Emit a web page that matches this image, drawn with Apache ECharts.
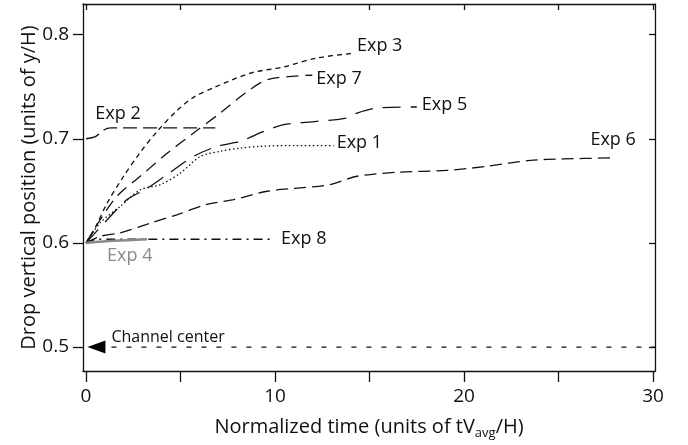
<!DOCTYPE html>
<html>
<head>
<meta charset="utf-8">
<script src="https://cdn.jsdelivr.net/npm/echarts@6/dist/echarts.min.js"></script>
<style>
  html, body { margin: 0; padding: 0; background: #fff; }
  #chart { width: 688px; height: 445px; }
</style>
</head>
<body>
<div id="chart"></div>
<script>
// Drop trajectories: normalized time vs. vertical position
const exp1X = [0, 0.76, 1.81, 2.87, 3.93, 4.99, 6.05, 7.1, 8.16, 9.2, 11.0, 13.1];
const exp1Y = [0.6, 0.6195, 0.635, 0.651, 0.656, 0.667, 0.683, 0.688, 0.691, 0.6927, 0.6935, 0.6935];

const exp2X = [0, 0.5, 0.9, 1.3, 6.84];
const exp2Y = [0.70, 0.702, 0.708, 0.7104, 0.7104];

const exp3X = [0, 0.5, 1.11, 1.99, 2.87, 3.76, 4.81, 5.7, 6.75, 8.69, 10.45, 12.2, 14.07];
const exp3Y = [0.6, 0.615, 0.638, 0.664, 0.687, 0.707, 0.727, 0.74, 0.749, 0.763, 0.769, 0.7775, 0.782];

const exp4X = [0, 1.5, 3.23];
const exp4Y = [0.6, 0.602, 0.6035];

const exp5X = [0, 1.11, 2.17, 3.2, 4.29, 5.69, 6.93, 8.16, 9.4, 10.45, 12.2, 13.8, 14.34, 15.4, 17.5];
const exp5Y = [0.6, 0.622, 0.6416, 0.652, 0.6656, 0.683, 0.6927, 0.6975, 0.707, 0.7135, 0.7167, 0.72, 0.7247, 0.7295, 0.7305];

const exp6X = [0, 0.76, 1.81, 3.4, 4.81, 6.4, 7.81, 9.58, 11.34, 12.9, 14.34, 16.45, 19.1, 21.2, 23.5, 25.27, 27.74];
const exp6Y = [0.6, 0.6064, 0.6097, 0.619, 0.627, 0.637, 0.6416, 0.6496, 0.6528, 0.656, 0.664, 0.6678, 0.6697, 0.6735, 0.6793, 0.6806, 0.6816];

const exp7X = [0, 0.6, 1.64, 2.87, 4.29, 5.69, 7.1, 8.43, 9.58, 11.34, 11.97];
const exp7Y = [0.6, 0.618, 0.645, 0.664, 0.686, 0.7055, 0.7247, 0.744, 0.7567, 0.7605, 0.761];

const exp8X = [0, 0.6, 9.84];
const exp8Y = [0.6, 0.6035, 0.6035];

const channelX = [0.55, 30.1];
const channelY = [0.5, 0.5];

const xTicks = [0, 5, 10, 15, 20, 25, 30];
const xTickLabels = [0, 10, 20, 30];
const yTicks = [0.5, 0.6, 0.7, 0.8];

const FONT = 'Open Sans';
const zip = (xs, ys) => xs.map((x, i) => [x, ys[i]]);

// series definitions: name, data, dash pattern, label offset
const curves = [
  { name: 'Exp 1', x: exp1X, y: exp1Y, dash: [1.5, 2.5], offset: [3, -3] },
  { name: 'Exp 2', x: exp2X, y: exp2Y, dash: [14, 6], offset: [-120, -14] },
  { name: 'Exp 3', x: exp3X, y: exp3Y, dash: [5, 4], offset: [5, -7] },
  { name: 'Exp 4', x: exp4X, y: exp4Y, dash: 'solid', offset: [-40, 17], color: '#8a8a8a', width: 2.5 },
  { name: 'Exp 5', x: exp5X, y: exp5Y, dash: [18, 10], offset: [5, -2] },
  { name: 'Exp 6', x: exp6X, y: exp6Y, dash: [12, 6], offset: [-20, -18] },
  { name: 'Exp 7', x: exp7X, y: exp7Y, dash: [12, 7], offset: [4, 4] },
  { name: 'Exp 8', x: exp8X, y: exp8Y, dash: [9, 5, 2, 5], offset: [9, 0] }
];

const series = curves.map(c => ({
  name: c.name,
  type: 'line',
  data: zip(c.x, c.y),
  smooth: 0.3,
  showSymbol: false,
  symbol: 'none',
  silent: true,
  z: c.color ? 3 : 2,
  lineStyle: { color: c.color || '#111', width: c.width || 1.3, type: c.dash },
  endLabel: {
    show: true,
    formatter: c.name,
    distance: 0,
    offset: c.offset,
    fontFamily: FONT,
    fontSize: 18,
    color: c.color || '#111',
    align: 'left',
    verticalAlign: 'middle'
  }
}));

// channel center reference line with arrow marker
series.push({
  name: 'Channel center',
  type: 'line',
  data: zip(channelX, channelY).map((p, i) => i === 0 ? {
    value: p,
    symbol: 'path://M0,5 L10,0 L10,10 Z',
    symbolSize: [18, 13],
    itemStyle: { color: '#000' },
    label: {
      show: true,
      formatter: 'Channel center',
      position: 'right',
      distance: 6,
      offset: [0, -10],
      fontFamily: FONT,
      fontSize: 16,
      color: '#111'
    }
  } : { value: p, symbol: 'none' }),
  showSymbol: true,
  showAllSymbol: true,
  silent: true,
  z: 4,
  lineStyle: { color: '#111', width: 1.2, type: [5, 10] }
});

const chart = echarts.init(document.getElementById('chart'), null, { renderer: 'canvas' });

chart.setOption({
  animation: false,
  backgroundColor: '#fff',
  grid: { left: 83, right: 33, top: 4, bottom: 73 },
  xAxis: [
    {
      type: 'value',
      position: 'bottom',
      min: -0.16,
      max: 30.1,
      name: 'Normalized time (units of tV{sub|avg}/H)',
      nameLocation: 'middle',
      nameGap: 44,
      nameMoveOverlap: false,
      nameTextStyle: {
        fontFamily: FONT, fontSize: 20, color: '#111',
        rich: { sub: { fontFamily: FONT, fontSize: 13, color: '#111', padding: [12, 0, 0, 0] } }
      },
      axisLine: { show: true, onZero: false, lineStyle: { color: '#111', width: 1.3 } },
      axisTick: { show: true, inside: false, length: 11, customValues: xTicks, lineStyle: { color: '#111', width: 1.3 } },
      axisLabel: { show: true, customValues: xTickLabels, margin: 16, fontFamily: FONT, fontSize: 19, color: '#111' },
      splitLine: { show: false }
    },
    {
      type: 'value',
      position: 'top',
      min: -0.16,
      max: 30.1,
      axisLine: { show: true, onZero: false, lineStyle: { color: '#111', width: 1.3 } },
      axisTick: { show: true, inside: true, length: 6, customValues: xTicks, lineStyle: { color: '#111', width: 1.3 } },
      axisLabel: { show: false },
      splitLine: { show: false }
    }
  ],
  yAxis: [
    {
      type: 'value',
      position: 'left',
      min: 0.477,
      max: 0.8294,
      name: 'Drop vertical position (units of y/H)',
      nameLocation: 'middle',
      nameGap: 44,
      nameMoveOverlap: false,
      nameTextStyle: { fontFamily: FONT, fontSize: 20, color: '#111' },
      axisLine: { show: true, onZero: false, lineStyle: { color: '#111', width: 1.3 } },
      axisTick: { show: true, inside: false, length: 10, customValues: yTicks, lineStyle: { color: '#111', width: 1.3 } },
      axisLabel: { show: true, customValues: yTicks, margin: 14, fontFamily: FONT, fontSize: 19, color: '#111',
        formatter: v => v.toFixed(1) },
      splitLine: { show: false }
    },
    {
      type: 'value',
      position: 'right',
      min: 0.477,
      max: 0.8294,
      axisLine: { show: true, onZero: false, lineStyle: { color: '#111', width: 1.3 } },
      axisTick: { show: true, inside: true, length: 6, customValues: yTicks, lineStyle: { color: '#111', width: 1.3 } },
      axisLabel: { show: false },
      splitLine: { show: false }
    }
  ],
  series: series
});
</script>
</body>
</html>
